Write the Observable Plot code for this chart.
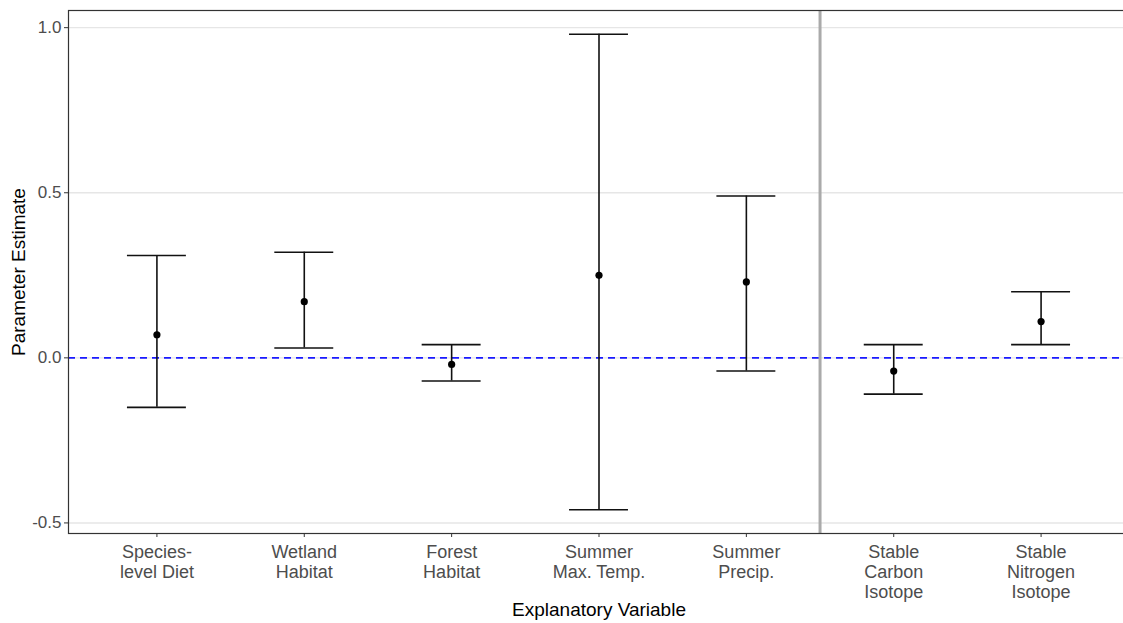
<!DOCTYPE html>
<html>
<head>
<meta charset="utf-8">
<script src="https://cdn.jsdelivr.net/npm/d3@7"></script>
<script src="https://cdn.jsdelivr.net/npm/@observablehq/plot@0.6"></script>
<style>
  html, body { margin: 0; padding: 0; background: #fff; overflow: hidden; }
</style>
</head>
<body>
<div id="chart"></div>
<script>
const categories = ["Species-\nlevel Diet", "Wetland\nHabitat", "Forest\nHabitat", "Summer\nMax. Temp.", "Summer\nPrecip.", "Stable\nCarbon\nIsotope", "Stable\nNitrogen\nIsotope"];
const estimates = [0.07, 0.17, -0.02, 0.25, 0.23, -0.04, 0.11];
const lowers = [-0.15, 0.03, -0.07, -0.46, -0.04, -0.11, 0.04];
const uppers = [0.31, 0.32, 0.04, 0.98, 0.49, 0.04, 0.20];
const yTicks = [-0.5, 0.0, 0.5, 1.0];
const dividerPosition = [5.5];

const data = categories.map((c, i) => ({idx: i + 1, label: c, est: estimates[i], lo: lowers[i], hi: uppers[i]}));
const capHalf = 0.2;

const chart = Plot.plot({
  width: 1123,
  height: 623,
  marginLeft: 68,
  marginRight: -6,
  marginTop: 10,
  marginBottom: 90,
  style: {fontFamily: "'Liberation Sans', Arial, sans-serif", background: "#fff"},
  x: {domain: [0.4, 7.6], axis: null},
  y: {domain: [-0.532, 1.052], axis: null},
  marks: [
    Plot.gridY(yTicks, {stroke: "#e6e6e6", strokeOpacity: 1, strokeWidth: 1.4}),
    Plot.ruleY([0], {stroke: "#1a1aff", strokeWidth: 1.7, strokeDasharray: "7,5"}),
    Plot.ruleX(dividerPosition, {stroke: "#aaaaaa", strokeWidth: 3}),
    Plot.ruleX(data, {x: "idx", y1: "lo", y2: "hi", stroke: "#111", strokeWidth: 1.6}),
    Plot.ruleY(data, {y: "lo", x1: d => d.idx - capHalf, x2: d => d.idx + capHalf, stroke: "#111", strokeWidth: 1.6}),
    Plot.ruleY(data, {y: "hi", x1: d => d.idx - capHalf, x2: d => d.idx + capHalf, stroke: "#111", strokeWidth: 1.6}),
    Plot.dot(data, {x: "idx", y: "est", r: 3.6, fill: "#000", stroke: "none"}),
    Plot.frame({stroke: "#333", strokeWidth: 1.2}),
    Plot.axisY(yTicks, {tickSize: 4, tickPadding: 3, fontSize: 17, stroke: "#333", fill: "#4d4d4d", tickFormat: d => d.toFixed(1), label: null}),
    Plot.axisX(data.map(d => d.idx), {tickSize: 4, tickPadding: 6, fontSize: 18, lineHeight: 1.11, stroke: "#333", fill: "#4d4d4d", tickFormat: i => categories[i - 1], label: null}),
    Plot.text(["Explanatory Variable"], {frameAnchor: "bottom", dy: 82, fontSize: 19, fill: "#000"}),
    Plot.text(["Parameter Estimate"], {frameAnchor: "left", dx: -50, rotate: -90, textAnchor: "middle", fontSize: 19, fill: "#000"})
  ]
});
document.getElementById("chart").appendChild(chart);
</script>
</body>
</html>
